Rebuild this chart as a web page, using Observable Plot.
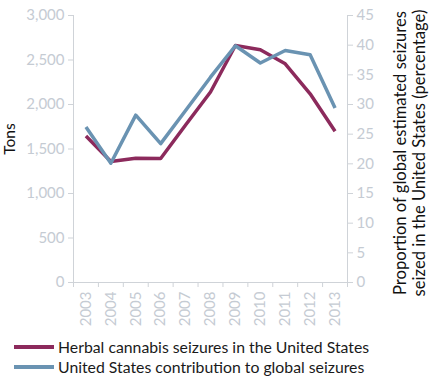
<!DOCTYPE html>
<html><head><meta charset="utf-8">
<script src="https://cdn.jsdelivr.net/npm/d3@7"></script>
<script src="https://cdn.jsdelivr.net/npm/@observablehq/plot@0.6"></script>
<style>
body{margin:0;background:#fff;font-family:Lato,"Open Sans",sans-serif;}
#legend{font-size:15.8px;color:#1a1a1a;margin-left:14px;margin-top:4px;line-height:20px}
#legend div{display:flex;align-items:center}
#legend svg{margin-right:4px}
</style></head>
<body><div id="chart"></div><div id="legend"></div>
<script>
const years = [2003,2004,2005,2006,2007,2008,2009,2010,2011,2012,2013];
const herbalTons = [1645,1360,1397,1393,1770,2140,2663,2615,2457,2120,1700];
const usShare = [26.2,20.1,28.2,23.4,29.0,34.6,39.9,37.0,39.1,38.4,29.4];
const leftTicks = [0,500,1000,1500,2000,2500,3000];
const rightTicks = [0,5,10,15,20,25,30,35,40,45];
const seriesNames = ["Herbal cannabis seizures in the United States","United States contribution to global seizures"];
const colors = ["#8c2a5c","#6a93b2"];

const yMax = 3000, pMax = 45, k = yMax/pMax;
const rows = [];
years.forEach((yr,i)=>{
  rows.push({year:yr, v:herbalTons[i], s:seriesNames[0]});
  rows.push({year:yr, v:usShare[i]*k, s:seriesNames[1]});
});
const edges = [years[0]-0.5, ...years.map(y=>y+0.5)];
const axisColor = "#cfd3d8", labelColor = "#c5cbd3";

const chart = Plot.plot({
  width:437, height:333,
  marginLeft:73, marginRight:90, marginTop:15, marginBottom:51,
  style:{fontFamily:"Lato, 'Open Sans', sans-serif", fontSize:"15px", background:"#fff"},
  x:{domain:[edges[0], edges[edges.length-1]]},
  y:{domain:[0,yMax]},
  color:{domain:seriesNames, range:colors},
  marks:[
    Plot.axisY({ticks:leftTicks, tickFormat:d=>d3.format(",")(d), tickSize:5, tickPadding:4, stroke:axisColor, fill:labelColor, label:null, fontSize:15}),
    Plot.axisY({anchor:"right", ticks:rightTicks.map(t=>t*k), tickFormat:d=>String(Math.round(d/k)), tickSize:5, tickPadding:4, stroke:axisColor, fill:labelColor, label:null, fontSize:15}),
    Plot.axisX({ticks:edges, tickFormat:()=>"", tickSize:5, stroke:axisColor, label:null}),
    Plot.axisX({ticks:years, tickFormat:d=>String(d), tickSize:0, tickPadding:9, tickRotate:-90, fill:labelColor, label:null, fontSize:15}),
    Plot.ruleX([edges[0], edges[edges.length-1]], {stroke:axisColor}),
    Plot.ruleY([0], {stroke:axisColor, x1:edges[0]-0.12, x2:edges[edges.length-1]+0.12}),
    Plot.line(rows, {x:"year", y:"v", z:"s", stroke:"s", strokeWidth:3.5, strokeLinejoin:"round", strokeLinecap:"butt"}),
    Plot.text(["Tons"], {frameAnchor:"left", dx:-63, dy:-10, rotate:-90, textAnchor:"middle", fill:"#111", fontSize:15.5}),
    Plot.text(["Proportion of global estimated seizures\nseized in the United States (percentage)"], {frameAnchor:"right", dx:62, dy:4, rotate:-90, textAnchor:"middle", fill:"#111", fontSize:16.6, lineHeight:1.15})
  ]
});
document.getElementById("chart").appendChild(chart);

const leg = document.getElementById("legend");
seriesNames.forEach((n,i)=>{
  const d = document.createElement("div");
  d.innerHTML = `<svg width="40" height="8"><line x1="0" y1="4" x2="40" y2="4" stroke="${colors[i]}" stroke-width="4"/></svg><span>${n}</span>`;
  leg.appendChild(d);
});
</script></body></html>
